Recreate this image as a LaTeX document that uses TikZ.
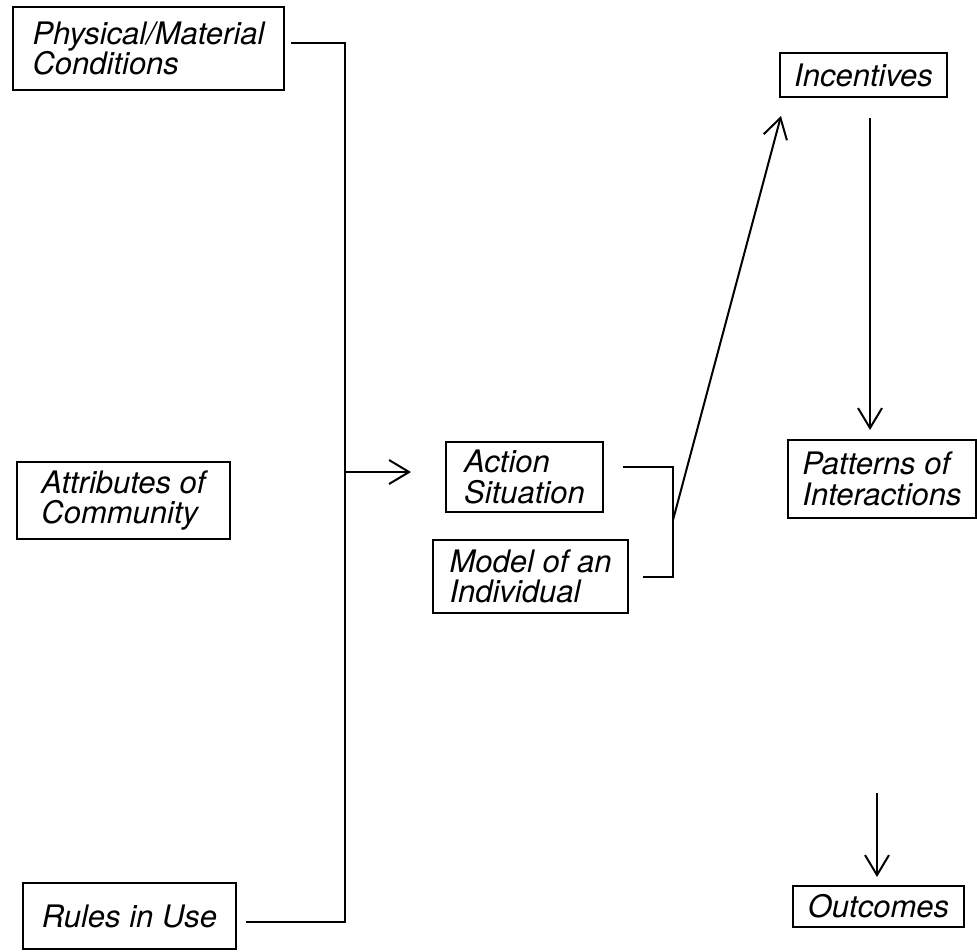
\documentclass[tikz,border=0pt]{standalone}
\usepackage{fontspec}
\setmainfont{TeX Gyre Heros}
\usetikzlibrary{arrows.meta}
\tikzset{box/.style={draw,line width=2pt,align=left,inner sep=0pt,
		font=\fontsize{31}{30.5}\selectfont\itshape},
	link/.style={line width=2pt},
	arr/.style={link,-{Straight Barb[length=20pt,width=24pt]}}}
\begin{document}
\begin{tikzpicture}[x=1pt,y=-1pt]
\useasboundingbox (0,0) rectangle (977,951);
\node [box,minimum width=271,minimum height=83] (phys) at (148.5,48.5) {Physical/Material\\Conditions};
\node [box,minimum width=213,minimum height=77] (attr) at (123.5,500.5) {Attributes of\\Community};
\node [box,minimum width=213,minimum height=66] (rules) at (129.5,916) {Rules in Use};
\node [box,minimum width=157,minimum height=70] (action) at (524.5,477) {Action\\Situation};
\node [box,minimum width=195,minimum height=73] (model) at (530.5,576.5) {Model of an\\Individual};
\node [box,minimum width=167,minimum height=44] (incent) at (863.5,75) {Incentives};
\node [box,minimum width=188,minimum height=78] (patt) at (882,479) {Patterns of\\Interactions};
\node [box,minimum width=171,minimum height=41] (outc) at (878.5,906.5) {Outcomes};
% bus on the left
\coordinate (top) at (345,43);
\coordinate (mid) at (345,472);
\coordinate (bot) at (345,922);
\draw [link] ([xshift=6pt]phys.east |- top) -- (top) -- (bot) -- ([xshift=9pt]rules.east |- bot);
\draw [arr] (mid) -- ([xshift=-34pt]action.west |- mid);
% bracket
\coordinate (bt) at (673,467);
\coordinate (bm) at (673,520);
\coordinate (bb) at (673,577);
\draw [link] ([xshift=19pt]action.east |- bt) -- (bt) -- (bb) -- ([xshift=14pt]model.east |- bb);
\draw [arr] (bm) -- ([shift={(2pt,-18pt)}]incent.south west);
\draw [arr] ([xshift=6.5pt,yshift=-20pt]incent.south) -- ([xshift=6.5pt]incent.south |- {(0,430)});
\coordinate (ostart) at (877,793);
\draw [arr] (ostart) -- ([yshift=8pt]outc.north -| ostart);
\end{tikzpicture}
\end{document}
